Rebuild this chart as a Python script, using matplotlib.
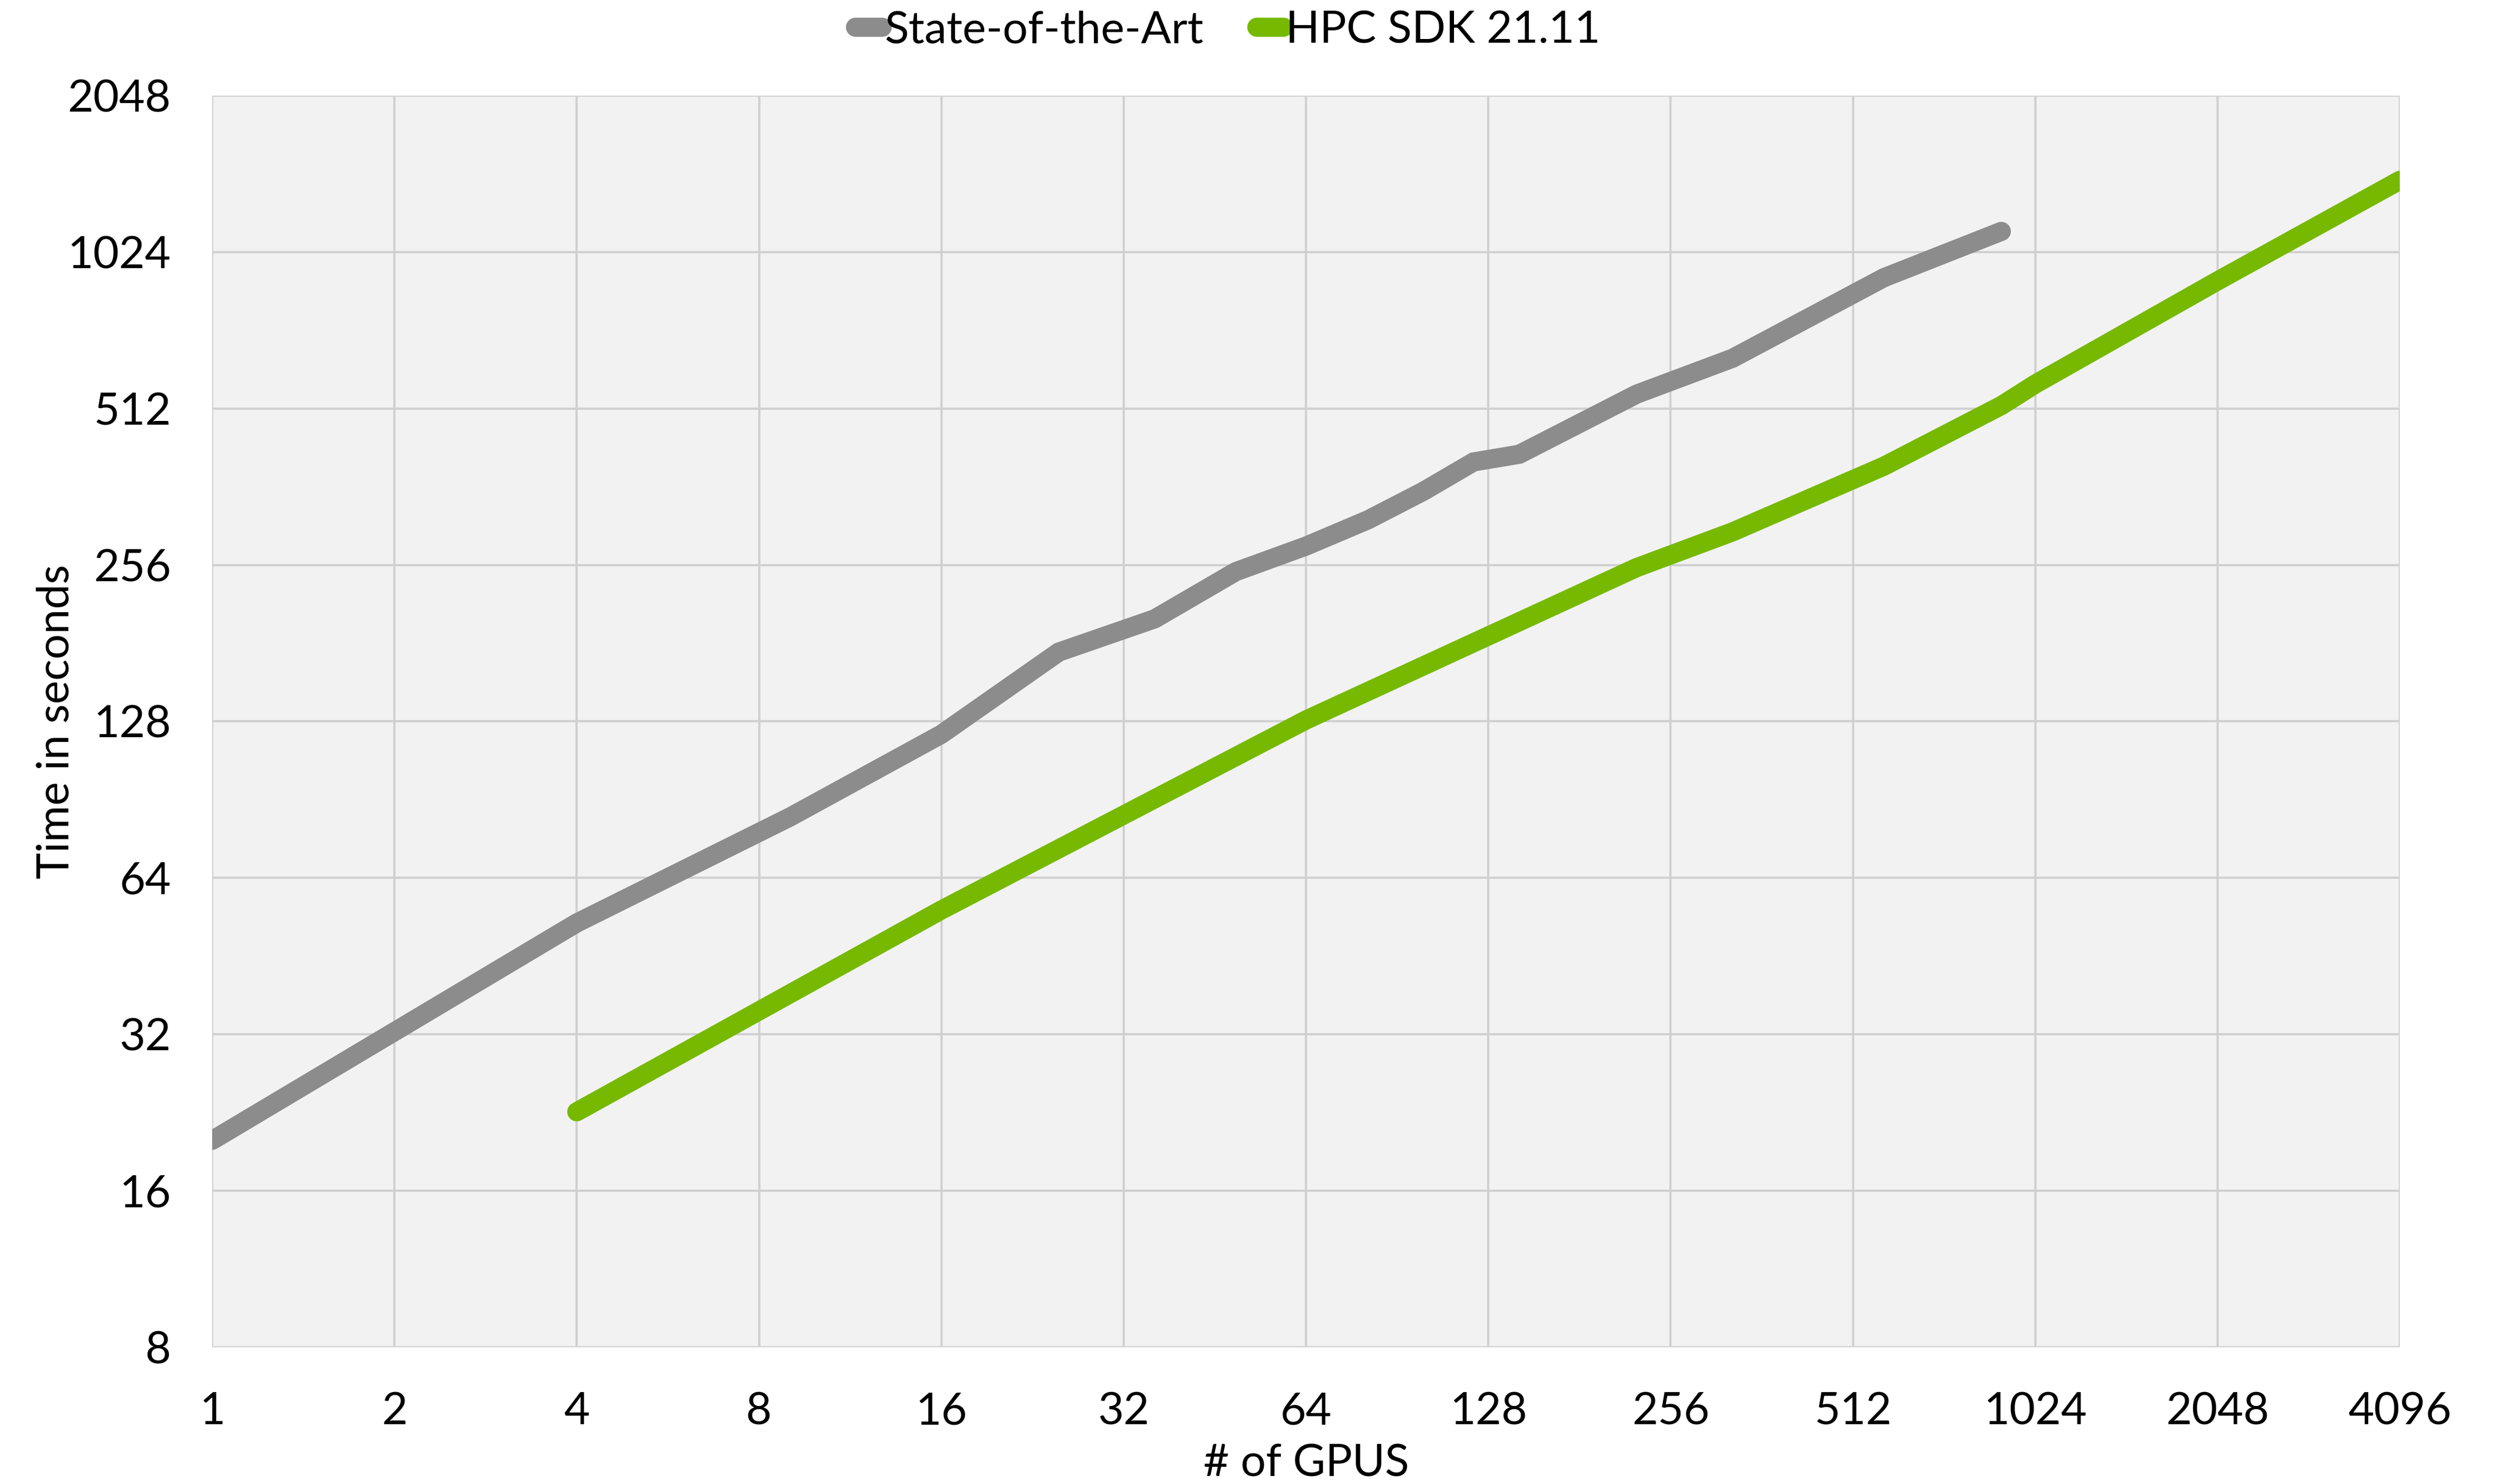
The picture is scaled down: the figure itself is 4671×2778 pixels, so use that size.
import matplotlib
matplotlib.use("Agg")
import matplotlib.pyplot as plt
from matplotlib.ticker import FixedLocator, NullLocator

plt.rcParams['font.family'] = ['Lato', 'DejaVu Sans']

# GPU counts (square numbers) and runtime in seconds
sota_gpus = [1, 4, 9, 16, 25, 36, 49, 64, 81, 100, 121, 144, 225, 324, 576, 900]
sota_time = [20.0, 52.4, 83.8, 120.9, 174, 201.6, 248.5, 278.3, 312.6, 354.8, 404, 418, 545.6, 639.6, 914, 1122]

sdk_gpus = [4, 16, 64, 225, 324, 576, 900, 1024, 2048, 4096]
sdk_time = [22.7, 55.5, 128.8, 253, 296.4, 396.5, 518.6, 570.5, 901, 1407]

ticks_x = [1, 2, 4, 8, 16, 32, 64, 128, 256, 512, 1024, 2048, 4096]
ticks_y = [8, 16, 32, 64, 128, 256, 512, 1024, 2048]

gray = '#8c8c8c'
green = '#76b900'

fig = plt.figure(figsize=(4671 / 300, 2778 / 300), dpi=300)
ax = fig.add_axes([0.085, 0.0922, 0.8765, 0.8434])
ax.set_facecolor('#f2f2f2')

ax.plot(sota_gpus, sota_time, color=gray, lw=8.6, solid_capstyle='round',
        solid_joinstyle='miter', label='State-of-the-Art', zorder=3)
ax.plot(sdk_gpus, sdk_time, color=green, lw=8.6, solid_capstyle='round',
        solid_joinstyle='miter', label='HPC SDK 21.11', zorder=3)

ax.set_xscale('log', base=2)
ax.set_yscale('log', base=2)
ax.set_xlim(1, 4096)
ax.set_ylim(8, 2048)
ax.xaxis.set_major_locator(FixedLocator(ticks_x))
ax.yaxis.set_major_locator(FixedLocator(ticks_y))
ax.xaxis.set_minor_locator(NullLocator())
ax.yaxis.set_minor_locator(NullLocator())
ax.set_xticklabels([str(t) for t in ticks_x])
ax.set_yticklabels([str(t) for t in ticks_y])
ax.tick_params(axis='both', length=0, labelsize=20, colors='black')
ax.tick_params(axis='x', pad=20)
ax.tick_params(axis='y', pad=18.5)

ax.grid(True, color='#d0d0d0', lw=1.0, zorder=0)
ax.set_axisbelow(True)
for s in ax.spines.values():
    s.set_visible(False)

ax.set_xlabel('# of GPUS', fontsize=20, labelpad=5)
ax.set_ylabel('Time in seconds', fontsize=20, labelpad=-4)

fig.legend(loc='upper center', bbox_to_anchor=(0.492, 1.02), ncol=2, frameon=False,
           fontsize=20, handlelength=0.6, handletextpad=0.05, columnspacing=1.2)

fig.savefig('out.png', dpi=300)
